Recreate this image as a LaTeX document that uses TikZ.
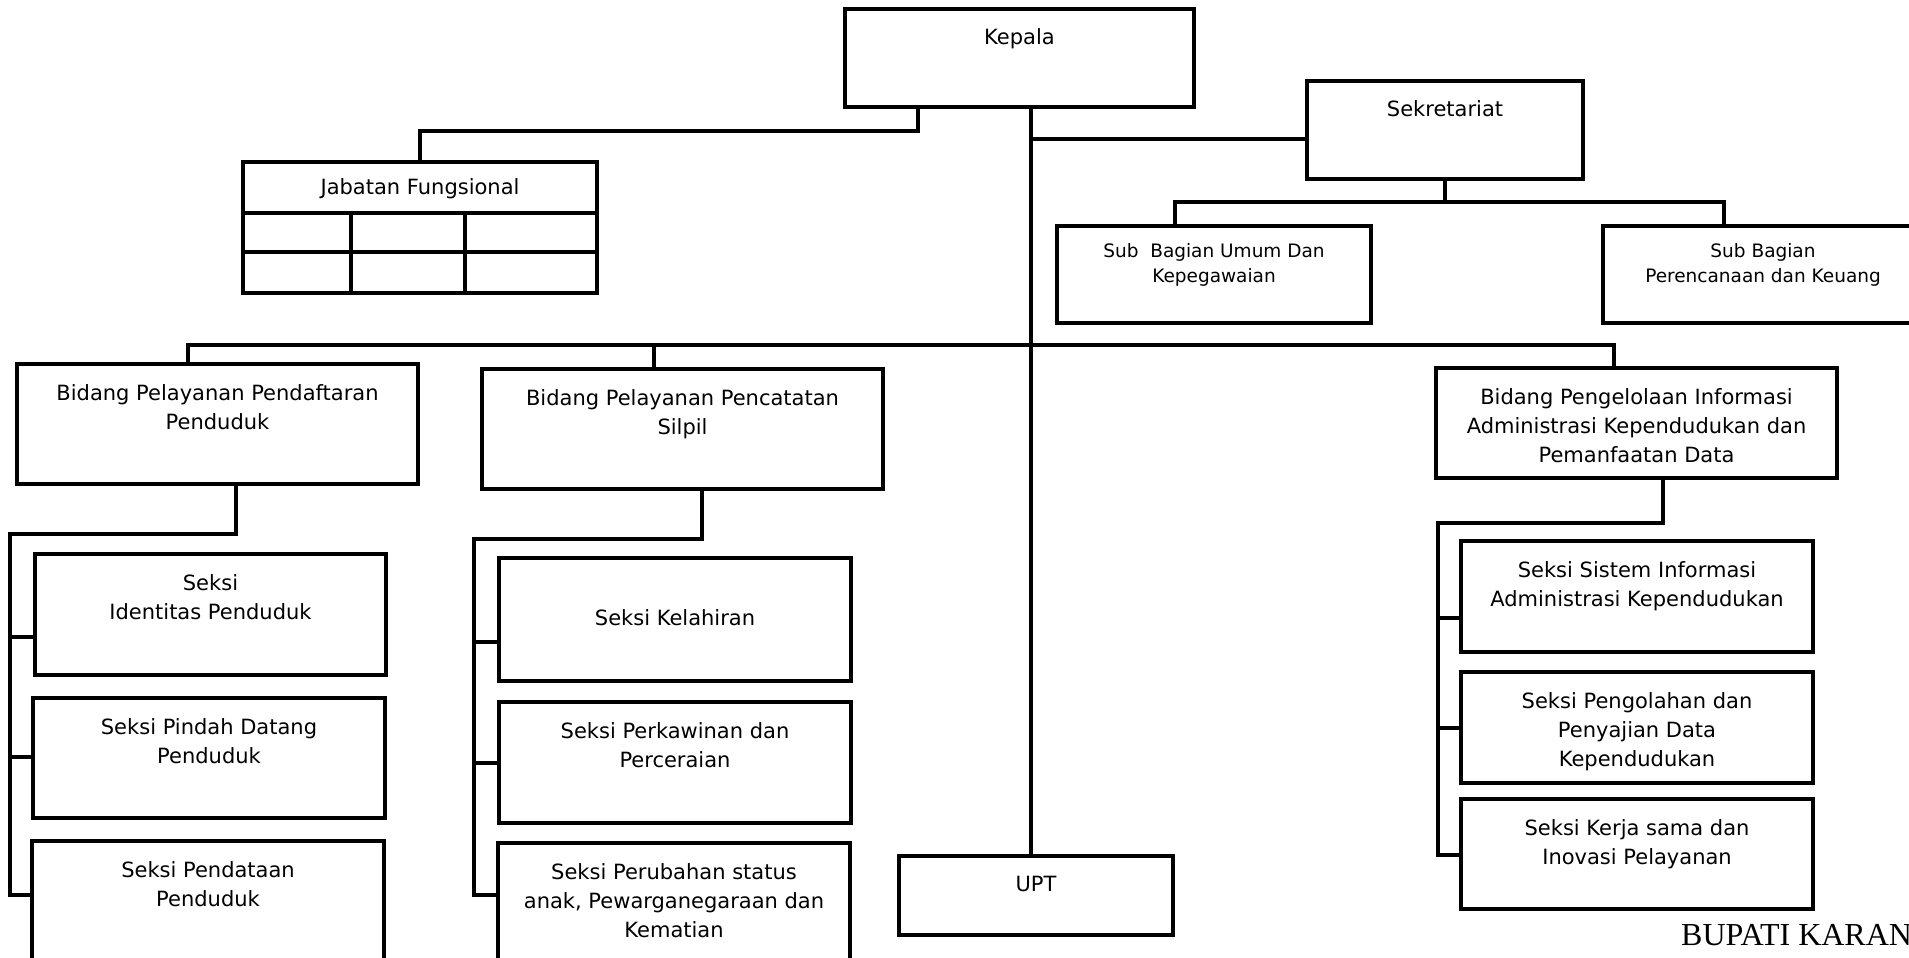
\documentclass[tikz,border=0pt]{standalone}
\usepackage{fontspec}
\setmainfont{DejaVu Sans}
\newfontfamily\bupatifont{Liberation Serif}
\usetikzlibrary{fit}

\begin{document}
\begin{tikzpicture}[x=1pt, y=-1pt,
		box/.style={draw, line width=4.2pt, inner sep=0pt},
		lbl/.style={anchor=north, inner sep=0pt, align=center, yshift=-22pt, font=\fontsize{21}{29}\selectfont},
		lblsub/.style={lbl, yshift=3pt, font=\fontsize{18.5}{25}\selectfont},
		link/.style={line width=3.6pt}]
			%%%%% START %%%%%
			
			\path[use as bounding box, fill=white] (0,0) rectangle (1909,958);
			
			\node[box, fit={(845,9) (1194,107)}, label={[lbl, yshift=1pt]north:{Kepala}}] (kepala) {};
			\node[box, fit={(243,162) (597,293)}, label={[lbl, yshift=4pt]north:{Jabatan Fungsional}}] (jabatan) {};
			\draw[line width=4.2pt] (243,213) -- (597,213) (243,252) -- (597,252);
			\draw[line width=4.2pt] (351,213) -- (351,293) (465,213) -- (465,293);
			
			\node[box, fit={(1307,81) (1583,179)}, label={[lbl, yshift=1pt]north:{Sekretariat}}] (sekretariat) {};
			\node[box, fit={(1057,226) (1371,323)}, label={[lblsub]north:{Sub\ \ Bagian Umum Dan\\Kepegawaian}}] (subumum) {};
			\node[box, fit={(1603,226) (1923,323)}, label={[lblsub]north:{Sub Bagian\\Perencanaan dan Keuang}}] (subkeu) {};
			
			\node[box, fit={(17,364) (418,484)}, label={[lbl]north:{Bidang Pelayanan Pendaftaran\\Penduduk}}] (bidA) {};
			\node[box, fit={(482,369) (883,489)}, label={[lbl]north:{Bidang Pelayanan Pencatatan\\Silpil}}] (bidB) {};
			\node[box, fit={(1436,368) (1837,478)}, label={[lbl]north:{Bidang Pengelolaan Informasi\\Administrasi Kependudukan dan\\Pemanfaatan Data}}] (bidC) {};
			
			\node[box, fit={(35,554) (386,675)}, label={[lbl]north:{Seksi\\Identitas Penduduk}}] (sekA1) {};
			\node[box, fit={(33,698) (385,818)}, label={[lbl]north:{Seksi Pindah Datang\\Penduduk}}] (sekA2) {};
			\node[box, fit={(32,841) (384,960)}, label={[lbl]north:{Seksi Pendataan\\Penduduk}}] (sekA3) {};
			
			\node[box, fit={(499,558) (851,681)}, label={[lbl, yshift=-31pt]north:{Seksi Kelahiran}}] (sekB1) {};
			\node[box, fit={(499,702) (851,823)}, label={[lbl]north:{Seksi Perkawinan dan\\Perceraian}}] (sekB2) {};
			\node[box, fit={(498,843) (850,975)}, label={[lbl]north:{Seksi Perubahan status\\anak, Pewarganegaraan dan\\Kematian}}] (sekB3) {};
			
			\node[box, fit={(899,856) (1173,935)}, label={[lbl]north:{UPT}}] (upt) {};
			
			\node[box, fit={(1461,541) (1813,652)}, label={[lbl]north:{Seksi Sistem Informasi\\Administrasi Kependudukan}}] (sekC1) {};
			\node[box, fit={(1461,672) (1813,783)}, label={[lbl]north:{Seksi Pengolahan dan\\Penyajian Data\\Kependudukan}}] (sekC2) {};
			\node[box, fit={(1461,799) (1813,909)}, label={[lbl]north:{Seksi Kerja sama dan\\Inovasi Pelayanan}}] (sekC3) {};
			
			% kepala to jabatan fungsional, upt and sekretariat
			\coordinate (jf) at (918,131);
			\draw[link] (jf |- kepala.south) -- (jf) -| (jabatan.north);
			\coordinate (spine) at (1031,139);
			\draw[link] (spine |- kepala.south) -- (spine |- upt.north);
			\draw[link] (spine) -- (spine -| sekretariat.west);
			
			\coordinate (sbL) at (1175,202);
			\coordinate (sbR) at (1724,202);
			\draw[link] (sekretariat.south) -- (sekretariat.south |- sbL);
			\draw[link] (sbL |- subumum.north) -- (sbL) -- (sbR) -- (sbR |- subkeu.north);
			
			% bidang
			\coordinate (busA) at (188,345);
			\coordinate (busB) at (654,345);
			\coordinate (busC) at (1614,345);
			\draw[link] (busA |- bidA.north) -- (busA) -- (busC) -- (busC |- bidC.north);
			\draw[link] (busB) -- (busB |- bidB.north);
			
			% seksi
			\coordinate (dnA) at (236,534);
			\coordinate (railA) at (10,534);
			\draw[link] (dnA |- bidA.south) -- (dnA) -- (railA) |- (sekA3.west |- 0,895);
			\draw[link] (railA |- 0,637) -- (sekA1.west |- 0,637);
			\draw[link] (railA |- 0,757) -- (sekA2.west |- 0,757);
			
			\coordinate (dnB) at (702,539);
			\coordinate (railB) at (474,539);
			\draw[link] (dnB |- bidB.south) -- (dnB) -- (railB) |- (sekB3.west |- 0,895);
			\draw[link] (railB |- 0,642) -- (sekB1.west |- 0,642);
			\draw[link] (railB |- 0,763) -- (sekB2.west |- 0,763);
			
			\coordinate (dnC) at (1663,523);
			\coordinate (railC) at (1438,523);
			\draw[link] (dnC |- bidC.south) -- (dnC) -- (railC) |- (sekC3.west |- 0,855);
			\draw[link] (railC |- 0,618) -- (sekC1.west |- 0,618);
			\draw[link] (railC |- 0,728) -- (sekC2.west |- 0,728);
			
			\node[anchor=base west, inner sep=0pt, font=\bupatifont\fontsize{32}{32}\selectfont] (bupati) at (1681,945) {BUPATI KARAN};
			
			%%%%% END %%%%%
		\end{tikzpicture}
\end{document}
